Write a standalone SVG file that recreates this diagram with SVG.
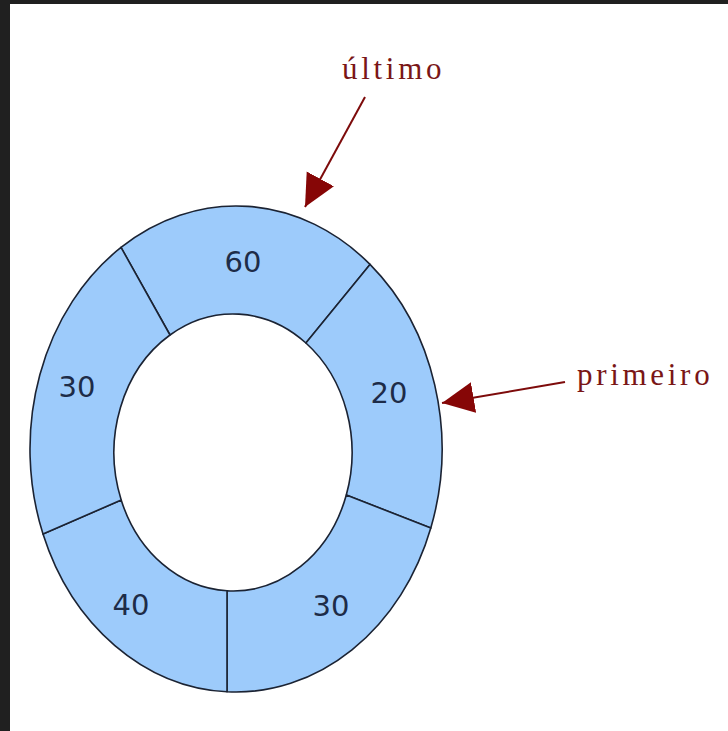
<svg xmlns="http://www.w3.org/2000/svg" width="728" height="731" viewBox="0 0 728 731">
<style>
.seg{fill:#9dcbfb;stroke:#1b2333;stroke-width:1.6;stroke-linejoin:round}
.num{font-family:"DejaVu Sans",sans-serif;font-size:29px;fill:#1d2c48;text-anchor:middle}
.lbl{font-family:"Liberation Serif",serif;font-size:31px;fill:#7a1616;letter-spacing:3.7px}
.arr{stroke:#7d0b0b;stroke-width:2;fill:none}
</style>
<defs>
<marker id="ah" markerUnits="userSpaceOnUse" markerWidth="34" markerHeight="33" refX="32" refY="15.5" orient="auto">
<path d="M0,0 L32,15.5 L0,31 Z" fill="#860606"/>
</marker>
</defs>
<rect x="0" y="0" width="728" height="731" fill="#ffffff"/>
<rect x="0" y="0" width="728" height="4" fill="#202020"/>
<rect x="0" y="0" width="10" height="731" fill="#202020"/>
<g id="seg-60">
<path class="seg" d="M121,247.4 A206,243 0 0 1 370,264.4 L305.9,343 A119,138.5 0 0 0 170,335 Z"/>
<text class="num" x="243" y="272">60</text>
</g>
<g id="seg-20">
<path class="seg" d="M370,264.4 A206,243 0 0 1 430.8,528 L346.3,495 A119,138.5 0 0 0 305.9,343 Z"/>
<text class="num" x="389" y="403">20</text>
</g>
<g id="seg-30b">
<path class="seg" d="M430.8,528 A206,243 0 0 1 227,691.8 L227,590.8 A119,138.5 0 0 0 346.3,495 Z"/>
<text class="num" x="331" y="616">30</text>
</g>
<g id="seg-40">
<path class="seg" d="M227,691.8 A206,243 0 0 1 43,534 L121.2,500 A119,138.5 0 0 0 227,590.8 Z"/>
<text class="num" x="131" y="615">40</text>
</g>
<g id="seg-30a">
<path class="seg" d="M43,534 A206,243 0 0 1 121,247.4 L170,335 A119,138.5 0 0 0 121.2,500 Z"/>
<text class="num" x="77" y="397">30</text>
</g>
<g id="label-ultimo">
<text class="lbl" x="342" y="79">último</text>
</g>
<g id="label-primeiro">
<text class="lbl" x="577" y="385">primeiro</text>
</g>
<g id="connectors">
<line class="arr" x1="365" y1="97" x2="305" y2="207" marker-end="url(#ah)"/>
<line class="arr" x1="565" y1="382" x2="442" y2="403" marker-end="url(#ah)"/>
</g>
</svg>
